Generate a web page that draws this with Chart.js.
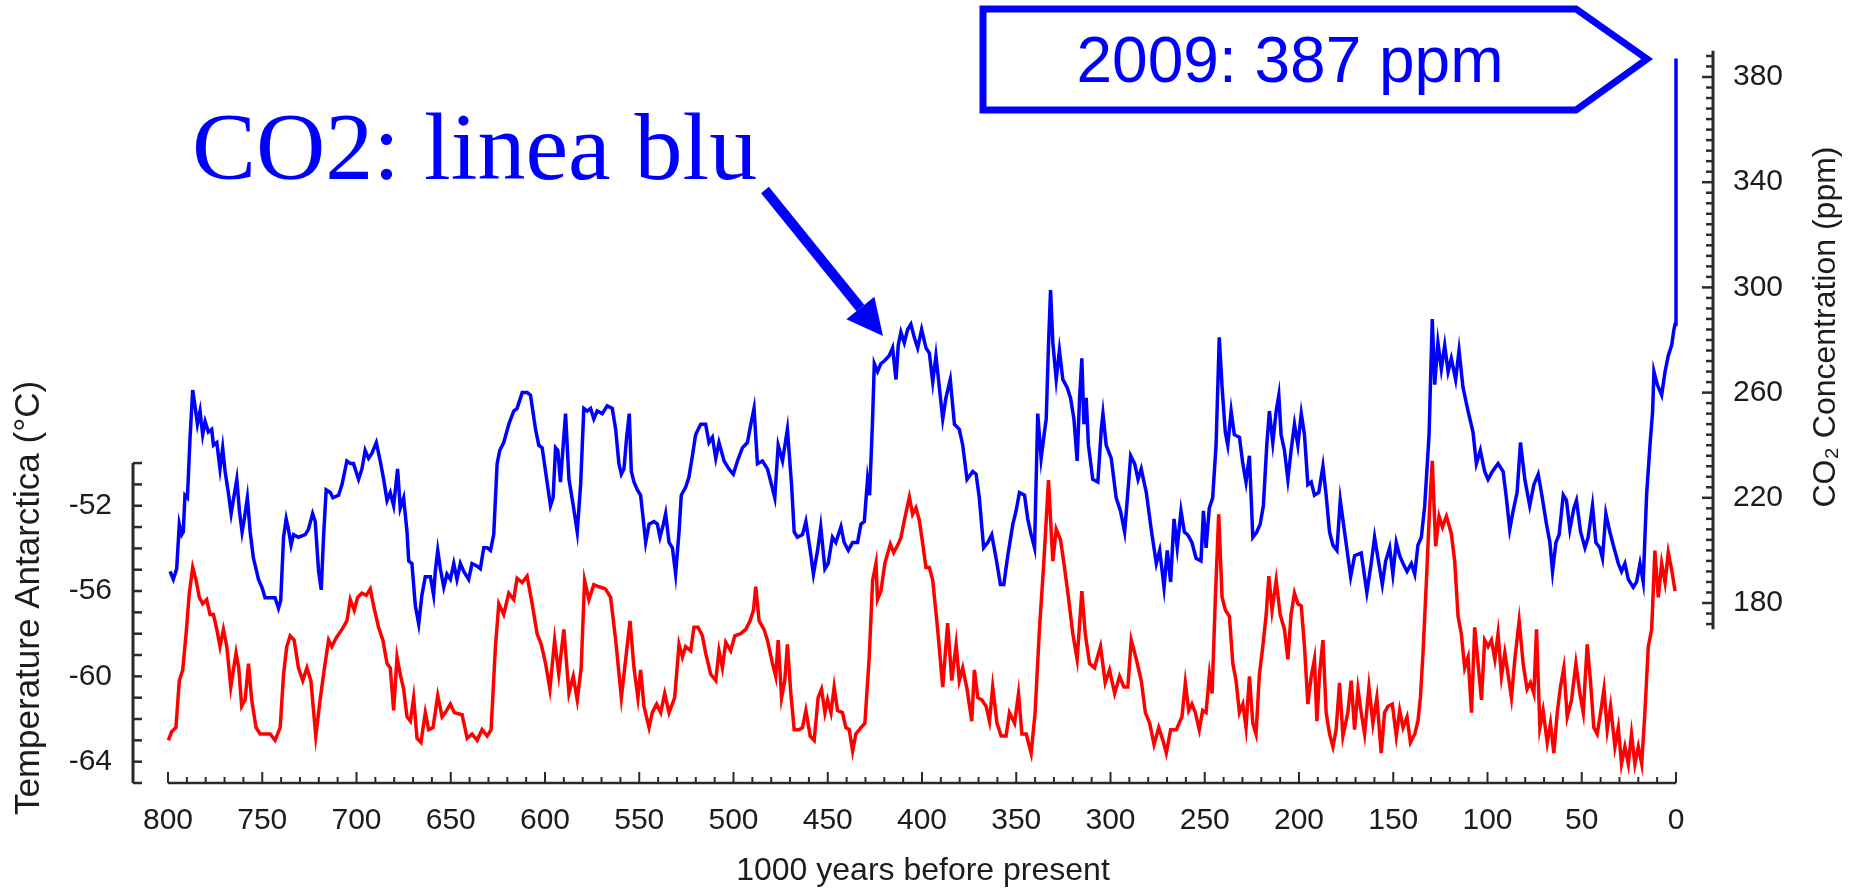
<!DOCTYPE html>
<html lang="it">

<head>
  <meta charset="UTF-8">
  <title>CO2 e temperatura Antartide</title>
  <script src="https://cdn.jsdelivr.net/npm/chart.js@4.4.1/dist/chart.umd.min.js"></script>
  <style>
    html, body { margin: 0; padding: 0; background: #fff; }
    #wrap { width: 1851px; height: 890px; }
  </style>
</head>

<body>
  <div id="wrap"><canvas id="iceChart" width="1851" height="890"></canvas></div>

  <script>
    // ages in 1000 years before present
    const co2Age = [798.9, 797.2, 795.4, 794.0, 792.7, 791.9, 791.0, 789.7, 788.3, 786.9, 785.7, 784.4, 783.0, 781.6, 780.3, 778.6, 776.8, 775.9, 774.1, 772.4,
      771.0, 769.7, 768.0, 766.5, 764.9, 763.5, 762.1, 760.7, 759.5, 757.9, 756.4, 754.7, 753.3, 752.0, 750.2, 748.5, 745.8, 743.2, 741.4, 740.2,
      738.7, 737.3, 736.1, 734.7, 733.4, 730.8, 727.2, 725.5, 723.3, 721.9, 720.1, 718.7, 717.5, 716.1, 713.9, 712.5, 709.5, 707.7, 705.1, 703.3,
      701.6, 698.9, 697.1, 695.4, 693.6, 691.8, 689.5, 687.4, 685.6, 683.8, 682.1, 680.3, 678.2, 676.8, 675.0, 673.2, 672.3, 670.6, 668.8, 667.0,
      665.3, 663.5, 660.8, 659.1, 658.2, 656.9, 655.5, 653.7, 652.0, 650.2, 648.4, 646.7, 644.9, 643.1, 640.5, 638.7, 636.0, 634.3, 632.5, 630.7,
      628.9, 627.2, 625.4, 624.0, 621.9, 619.2, 616.6, 614.8, 612.1, 609.5, 607.7, 605.0, 603.3, 601.5, 598.9, 597.1, 595.7, 594.4, 593.2, 591.8,
      589.1, 587.3, 585.0, 582.9, 581.1, 579.4, 577.6, 575.8, 574.1, 572.3, 569.6, 567.0, 564.3, 562.5, 560.8, 559.5, 558.1, 556.7, 555.3, 554.2,
      552.8, 551.0, 549.3, 547.9, 546.6, 544.8, 542.2, 540.4, 539.0, 537.2, 536.0, 534.2, 532.4, 530.7, 528.9, 527.7, 525.4, 523.6, 521.8, 520.1,
      517.4, 514.8, 513.0, 511.2, 509.4, 507.7, 505.0, 502.4, 500.1, 497.9, 495.3, 492.6, 490.8, 489.1, 487.3, 484.6, 482.0, 480.2, 478.1, 476.3,
      474.0, 471.4, 469.2, 467.8, 466.1, 463.4, 461.6, 459.3, 457.6, 455.4, 453.7, 451.5, 449.8, 447.5, 445.7, 443.0, 441.3, 439.1, 436.8, 434.2,
      432.4, 430.6, 428.9, 427.8, 426.2, 425.3, 423.6, 421.8, 420.0, 417.4, 415.6, 413.8, 412.6, 411.2, 409.4, 407.6, 405.9, 404.1, 402.3, 400.2,
      397.9, 396.1, 394.3, 392.6, 390.8, 389.0, 387.3, 385.0, 382.8, 380.2, 378.4, 376.1, 373.1, 371.3, 369.6, 367.3, 365.1, 363.0, 360.7, 358.4,
      356.6, 354.5, 351.8, 350.1, 348.3, 345.6, 343.9, 342.1, 340.3, 338.6, 336.8, 335.4, 334.1, 332.9, 331.8, 330.6, 328.8, 327.1, 325.3, 323.0,
      321.2, 319.4, 317.7, 316.4, 315.2, 314.1, 312.9, 311.7, 309.4, 306.7, 304.9, 304.0, 302.3, 299.6, 297.0, 294.7, 292.5, 290.8, 289.3, 287.2,
      285.4, 283.7, 281.0, 278.4, 275.7, 273.9, 271.6, 269.9, 268.1, 266.3, 264.6, 262.6, 260.8, 259.1, 256.8, 254.6, 252.0, 250.7, 249.3, 247.6,
      245.8, 244.0, 242.3, 240.8, 239.1, 237.8, 236.0, 234.3, 231.6, 229.8, 228.1, 226.3, 224.5, 222.4, 220.6, 218.9, 217.1, 215.7, 213.9, 212.1,
      210.7, 209.5, 207.7, 205.9, 204.2, 202.4, 200.6, 198.8, 197.1, 195.3, 193.5, 191.8, 189.5, 187.3, 185.6, 183.8, 182.0, 179.9, 178.1, 176.4,
      174.1, 172.6, 170.5, 167.0, 164.0, 161.7, 159.9, 158.1, 155.8, 154.0, 151.9, 150.2, 148.4, 146.6, 144.8, 142.7, 140.4, 138.6, 136.9, 135.1,
      133.3, 131.0, 129.3, 128.0, 126.3, 124.5, 122.7, 120.9, 119.2, 116.9, 115.1, 113.0, 110.3, 107.7, 105.9, 103.8, 101.5, 99.7, 97.4, 94.4,
      91.7, 90.0, 88.2, 86.4, 84.3, 82.5, 80.2, 77.6, 75.4, 73.1, 71.4, 68.7, 66.9, 65.5, 63.7, 62.0, 59.8, 58.1, 56.3, 54.2,
      52.8, 50.6, 48.3, 46.6, 44.3, 42.5, 40.4, 39.0, 37.2, 35.1, 32.9, 30.6, 28.9, 27.1, 25.3, 22.7, 20.9, 19.1, 17.4, 15.6,
      13.8, 12.4, 11.7, 9.9, 7.6, 5.8, 4.1, 2.3, 1.1, 0.5, 0.0];
    const co2Ppm = [192, 189, 193, 210, 206, 207, 221, 220, 243, 261, 255, 248, 253, 244, 249, 245, 246, 240, 241, 231,
      239, 230, 222, 214, 221, 227, 215, 207, 212, 220, 207, 197, 193, 189, 186, 182, 182, 182, 178, 181,
      205, 212, 208, 202, 206, 205, 206, 208, 214, 211, 192, 185, 205, 223, 222, 220, 221, 225, 234, 233,
      233, 227, 231, 238, 235, 237, 241, 234, 227, 219, 222, 217, 231, 216, 220, 207, 196, 195, 179, 172,
      183, 190, 190, 183, 192, 200, 193, 186, 191, 189, 195, 189, 195, 192, 189, 195, 194, 193, 201, 201,
      200, 206, 233, 238, 241, 248, 253, 254, 260, 260, 259, 246, 240, 239, 226, 217, 220, 239, 238, 226,
      252, 227, 217, 207, 225, 254, 253, 254, 250, 253, 252, 255, 254, 246, 233, 229, 231, 243, 252, 230,
      226, 223, 221, 212, 203, 210, 211, 210, 205, 210, 214, 203, 201, 191, 207, 221, 224, 228, 236, 244,
      248, 248, 241, 243, 235, 241, 234, 231, 229, 234, 239, 241, 248, 254, 233, 234, 231, 226, 220, 240,
      234, 246, 225, 207, 205, 206, 211, 200, 191, 200, 209, 193, 195, 205, 203, 209, 203, 200, 203, 203,
      210, 211, 227, 221, 250, 271, 268, 271, 272, 274, 277, 265, 278, 283, 279, 284, 286, 281, 277, 284,
      277, 275, 264, 274, 262, 250, 258, 265, 248, 246, 240, 227, 230, 229, 220, 201, 203, 206, 197, 187,
      187, 198, 210, 215, 222, 221, 212, 206, 201, 252, 235, 243, 250, 278, 299, 279, 265, 276, 265, 262,
      258, 250, 234, 258, 273, 248, 258, 240, 227, 226, 246, 252, 240, 235, 220, 215, 207, 222, 236, 233,
      227, 231, 222, 208, 195, 200, 186, 200, 188, 212, 201, 215, 207, 206, 203, 197, 196, 215, 201, 216,
      220, 240, 281, 262, 245, 240, 253, 244, 243, 233, 226, 236, 205, 207, 210, 217, 240, 253, 241, 253,
      259, 244, 238, 227, 238, 248, 240, 252, 244, 225, 226, 221, 222, 232, 221, 207, 202, 200, 219, 210,
      198, 190, 198, 199, 184, 195, 205, 197, 187, 196, 201, 191, 203, 198, 195, 192, 195, 191, 202, 205,
      217, 244, 288, 263, 279, 269, 278, 268, 273, 265, 276, 262, 253, 245, 233, 238, 230, 227, 230, 233,
      230, 220, 208, 215, 222, 241, 227, 217, 225, 229, 222, 210, 203, 192, 203, 206, 221, 219, 208, 216,
      219, 207, 201, 205, 217, 203, 201, 197, 214, 207, 201, 195, 192, 195, 189, 186, 188, 195, 188, 221,
      240, 253, 268, 263, 259, 268, 274, 278, 284, 286, 387];

    const tempAge = [799.8, 798.1, 795.8, 794.0, 792.2, 790.4, 788.7, 786.9, 785.1, 783.4, 781.6, 779.5, 777.7, 775.9, 774.1, 772.4, 770.6, 768.8, 766.7, 765.3,
      763.9, 762.5, 760.9, 759.1, 757.3, 755.6, 753.3, 751.1, 748.5, 745.8, 743.2, 740.5, 738.7, 737.0, 735.2, 733.1, 730.8, 728.5, 726.3, 724.2,
      721.6, 719.3, 717.0, 714.8, 713.1, 710.8, 707.7, 705.1, 703.3, 701.2, 699.4, 697.1, 694.8, 692.7, 690.9, 688.3, 686.0, 683.8, 682.1, 680.3,
      678.5, 676.8, 675.0, 673.2, 671.4, 669.7, 667.9, 665.8, 663.5, 661.7, 659.4, 656.9, 654.6, 652.9, 650.2, 648.1, 644.0, 641.3, 638.7, 636.0,
      633.4, 630.7, 628.6, 626.3, 624.5, 621.9, 619.2, 616.6, 614.8, 612.1, 609.5, 606.8, 604.2, 602.0, 599.7, 597.4, 594.9, 592.7, 590.0, 587.3,
      585.0, 582.9, 580.8, 579.0, 576.7, 574.1, 571.4, 567.9, 565.2, 562.5, 559.5, 557.2, 554.9, 552.8, 550.7, 549.3, 547.5, 544.8, 543.1, 540.8,
      538.6, 536.5, 534.2, 531.2, 528.9, 527.1, 525.4, 522.7, 521.0, 518.8, 516.5, 514.8, 512.1, 509.4, 507.7, 505.9, 504.1, 501.5, 499.3, 496.2,
      493.5, 491.2, 489.4, 488.2, 486.4, 483.8, 482.0, 479.3, 477.6, 476.3, 474.5, 472.8, 471.4, 469.6, 467.8, 465.2, 463.4, 461.6, 459.3, 457.2,
      455.1, 453.3, 451.5, 450.1, 448.3, 446.6, 444.8, 442.2, 440.4, 438.6, 436.8, 435.1, 432.4, 430.3, 428.0, 426.2, 424.4, 423.6, 421.8, 419.7,
      416.8, 415.0, 412.6, 411.2, 409.4, 406.7, 405.0, 403.2, 401.4, 399.6, 397.9, 396.1, 394.3, 391.7, 389.0, 386.4, 384.2, 381.9, 380.2, 378.4,
      376.1, 373.6, 372.2, 370.4, 368.3, 366.0, 364.2, 362.5, 360.2, 358.0, 355.4, 353.6, 350.9, 348.8, 347.0, 344.7, 342.1, 340.0, 337.7, 335.4,
      332.9, 330.6, 328.8, 326.5, 324.4, 322.3, 320.0, 317.7, 315.2, 313.4, 311.1, 308.5, 305.3, 302.8, 300.5, 297.8, 295.2, 292.9, 290.8, 289.0,
      286.3, 283.7, 281.5, 279.2, 276.9, 274.4, 272.2, 270.4, 268.1, 265.1, 262.1, 260.3, 258.5, 256.8, 255.0, 252.9, 251.1, 249.3, 247.5, 246.1,
      244.4, 242.6, 240.8, 239.0, 236.9, 235.1, 233.4, 231.6, 229.8, 228.1, 226.3, 224.5, 222.8, 221.0, 219.2, 217.4, 216.0, 214.3, 212.1, 210.0,
      207.7, 205.9, 204.2, 202.4, 200.6, 198.8, 197.1, 195.3, 193.5, 191.8, 190.5, 189.1, 187.3, 185.6, 183.8, 182.0, 180.3, 178.5, 176.7, 174.1,
      172.3, 170.5, 168.7, 167.0, 165.2, 162.9, 160.8, 158.7, 156.4, 154.6, 152.8, 150.5, 148.4, 146.6, 144.8, 142.7, 140.9, 138.6, 136.9, 135.6,
      134.2, 132.4, 130.7, 129.3, 127.5, 125.7, 123.9, 121.8, 119.2, 117.4, 115.6, 113.9, 112.1, 110.3, 108.5, 106.8, 105.0, 103.2, 101.5, 99.7,
      97.9, 96.1, 94.4, 92.6, 90.8, 89.1, 87.3, 85.5, 83.2, 81.1, 79.0, 77.2, 75.4, 74.0, 72.2, 70.5, 68.3, 66.6, 64.8, 63.0,
      61.3, 59.5, 57.7, 55.4, 53.1, 51.0, 49.2, 47.1, 45.3, 43.6, 41.8, 40.0, 38.2, 36.5, 34.7, 32.4, 30.6, 28.9, 27.1, 25.3,
      23.6, 21.8, 20.0, 18.2, 16.5, 14.7, 12.9, 11.2, 9.4, 7.6, 5.8, 4.1, 2.3, 0.5];
    const tempC = [-63.0, -62.6, -62.4, -60.2, -59.7, -58.0, -56.1, -54.9, -55.5, -56.3, -56.6, -56.4, -57.1, -57.1, -57.8, -58.6, -57.8, -58.6, -60.5, -59.7,
      -58.9, -59.6, -61.4, -61.1, -59.4, -61.1, -62.4, -62.7, -62.7, -62.7, -63.0, -62.4, -59.9, -58.6, -58.1, -58.3, -59.6, -60.2, -59.6, -60.2,
      -62.8, -61.1, -59.6, -58.3, -58.6, -58.2, -57.8, -57.4, -56.4, -56.9, -56.3, -56.1, -56.2, -55.9, -56.7, -57.7, -58.3, -59.4, -59.6, -61.6,
      -59.1, -59.9, -60.6, -61.9, -62.1, -61.0, -62.9, -63.1, -61.7, -62.5, -62.4, -60.9, -61.9, -61.7, -61.3, -61.7, -61.8, -62.9, -62.7, -63.0,
      -62.5, -62.8, -62.5, -58.6, -56.6, -57.1, -56.1, -56.4, -55.4, -55.6, -55.3, -56.6, -58.0, -58.5, -59.4, -60.6, -58.3, -59.9, -57.8, -60.8,
      -60.0, -61.1, -59.6, -55.5, -56.4, -55.7, -55.8, -55.9, -56.3, -58.3, -61.0, -59.2, -57.4, -59.6, -61.0, -59.7, -61.4, -62.4, -61.7, -61.3,
      -61.7, -60.8, -61.7, -61.0, -58.5, -59.1, -58.6, -58.8, -57.7, -57.7, -58.1, -58.9, -59.9, -60.2, -58.8, -59.6, -58.4, -58.8, -58.1, -58.0,
      -57.8, -57.4, -56.9, -55.8, -57.4, -57.8, -58.3, -59.4, -60.0, -58.3, -61.0, -60.2, -58.5, -60.8, -62.5, -62.5, -62.4, -61.6, -62.8, -63.0,
      -61.0, -60.6, -61.7, -61.1, -61.7, -60.5, -61.6, -61.7, -62.4, -62.5, -63.5, -62.7, -62.4, -62.2, -59.1, -55.5, -54.7, -56.4, -56.0, -54.7,
      -53.8, -54.2, -53.8, -53.5, -52.7, -51.6, -52.4, -52.1, -52.7, -53.8, -54.9, -54.9, -55.5, -57.8, -60.5, -57.5, -60.2, -58.5, -60.2, -59.6,
      -60.6, -62.1, -59.7, -61.0, -61.1, -61.4, -62.1, -60.5, -62.2, -62.8, -62.8, -61.7, -62.2, -60.8, -62.7, -62.7, -63.6, -61.7, -57.8, -54.7,
      -50.8, -54.6, -53.1, -53.6, -54.9, -56.3, -58.0, -59.2, -56.0, -58.0, -59.4, -59.6, -58.6, -60.3, -59.7, -60.8, -60.0, -60.5, -60.5, -58.3,
      -59.2, -60.2, -61.7, -62.2, -63.2, -62.4, -63.0, -63.6, -62.5, -62.5, -61.9, -60.3, -61.6, -61.3, -61.7, -62.5, -61.6, -61.7, -59.9, -60.8,
      -56.4, -52.4, -56.3, -56.9, -57.2, -59.4, -60.2, -61.7, -61.3, -62.4, -60.0, -62.2, -62.7, -59.9, -58.6, -57.1, -55.3, -56.9, -55.5, -57.1,
      -57.8, -59.2, -57.1, -56.1, -56.6, -56.7, -58.6, -61.3, -60.0, -59.2, -62.1, -59.9, -58.3, -61.7, -62.7, -63.3, -62.5, -60.3, -62.8, -61.7,
      -60.2, -62.5, -60.6, -61.7, -62.7, -60.5, -62.2, -61.0, -63.6, -61.7, -61.4, -61.3, -62.8, -61.6, -62.4, -61.9, -63.1, -62.7, -62.1, -61.0,
      -58.9, -55.5, -52.1, -49.9, -53.9, -52.5, -53.0, -52.5, -53.3, -54.6, -57.2, -58.0, -59.6, -59.1, -61.7, -57.7, -59.4, -61.1, -58.3, -58.6,
      -58.3, -59.2, -58.0, -60.0, -58.9, -59.9, -61.0, -59.2, -57.4, -59.4, -60.6, -60.3, -60.8, -57.8, -62.4, -61.6, -63.1, -62.2, -63.6, -61.7,
      -60.5, -59.6, -61.9, -61.1, -59.4, -60.8, -61.7, -58.5, -60.3, -62.4, -62.7, -61.7, -60.6, -62.5, -61.4, -63.3, -62.4, -64.1, -63.3, -64.1,
      -62.7, -64.1, -63.3, -64.1, -61.7, -58.6, -57.8, -54.1, -56.3, -54.7, -55.6, -54.2, -55.0, -56.0];

    const ageTicks = [800, 750, 700, 650, 600, 550, 500, 450, 400, 350, 300, 250, 200, 150, 100, 50, 0];
    const tempTicks = [-64, -60, -56, -52];
    const co2Ticks = [180, 220, 260, 300, 340, 380];

    const SANS = '"Liberation Sans", Arial, sans-serif';
    const BLUE = '#0000ff';
    const INK = '#1c1c1c';

    function seg(ctx, x1, y1, x2, y2, w) {
      ctx.lineWidth = w;
      ctx.beginPath();
      ctx.moveTo(x1, y1);
      ctx.lineTo(x2, y2);
      ctx.stroke();
    }

    // axis lines with inward ticks, y titles and the blue notes
    const decor = {
      id: 'decor',
      afterDraw(chart) {
        const { ctx, chartArea: a } = chart;
        const { x, yT, yC } = chart.scales;
        ctx.save();
        ctx.strokeStyle = '#2a2a2a';

        // time axis
        seg(ctx, x.getPixelForValue(800), a.bottom, x.getPixelForValue(0), a.bottom, 2.5);
        for (let v = 0; v <= 800; v += 10) {
          const px = x.getPixelForValue(v);
          seg(ctx, px, a.bottom, px, a.bottom - (v % 50 === 0 ? 11 : 6), 2);
        }

        // temperature axis
        seg(ctx, a.left, yT.getPixelForValue(-50), a.left, yT.getPixelForValue(-65), 3);
        for (let v = -65; v <= -50; v++) {
          const py = yT.getPixelForValue(v);
          seg(ctx, a.left, py, a.left + 9, py, 2.5);
        }

        // co2 axis
        seg(ctx, a.right, yC.getPixelForValue(390), a.right, yC.getPixelForValue(170), 3);
        for (let v = 172; v <= 388; v += 4) {
          const py = yC.getPixelForValue(v);
          seg(ctx, a.right, py, a.right - (v % 40 === 20 ? 11 : 7), py, 2.5);
        }

        // rotated axis titles
        ctx.fillStyle = INK;
        ctx.font = '35px ' + SANS;
        ctx.textAlign = 'center';
        ctx.textBaseline = 'alphabetic';
        ctx.save();
        ctx.translate(39, 598);
        ctx.rotate(-Math.PI / 2);
        ctx.fillText('Temperature Antarctica (°C)', 0, 0);
        ctx.restore();

        ctx.font = '32px ' + SANS;
        ctx.save();
        ctx.translate(1835, 327);
        ctx.rotate(-Math.PI / 2);
        ctx.fillText('CO\u2082 Concentration (ppm)', 0, 0);
        ctx.restore();

        // "CO2: linea blu" with arrow
        ctx.fillStyle = BLUE;
        ctx.strokeStyle = BLUE;
        ctx.font = '96px "Liberation Serif", "Times New Roman", serif';
        ctx.textAlign = 'left';
        ctx.fillText('CO2: linea blu', 192, 179);

        const sx = 765, sy = 190, tx = 883, ty = 336;
        const len = Math.hypot(tx - sx, ty - sy);
        const ux = (tx - sx) / len, uy = (ty - sy) / len;
        const bx = tx - ux * 36, by = ty - uy * 36;
        ctx.lineCap = 'butt';
        seg(ctx, sx, sy, bx, by, 10);
        ctx.beginPath();
        ctx.moveTo(tx, ty);
        ctx.lineTo(bx - uy * 18, by + ux * 18);
        ctx.lineTo(bx + uy * 18, by - ux * 18);
        ctx.closePath();
        ctx.fill();

        // 2009 box
        ctx.beginPath();
        ctx.moveTo(983, 9);
        ctx.lineTo(1576, 9);
        ctx.lineTo(1647, 59);
        ctx.lineTo(1576, 110);
        ctx.lineTo(983, 110);
        ctx.closePath();
        ctx.fillStyle = '#fff';
        ctx.fill();
        ctx.lineWidth = 7;
        ctx.lineJoin = 'miter';
        ctx.stroke();
        ctx.fillStyle = BLUE;
        ctx.font = '64px ' + SANS;
        ctx.textAlign = 'center';
        ctx.fillText('2009: 387 ppm', 1290, 82);

        ctx.restore();
      }
    };

    const tickFont = { family: SANS, size: 30 };

    new Chart(document.getElementById('iceChart'), {
      type: 'line',
      data: {
        datasets: [
          {
            label: 'CO2',
            data: co2Age.map((a, i) => ({ x: a, y: co2Ppm[i] })),
            yAxisID: 'yC',
            borderColor: BLUE,
            borderWidth: 3.5,
            pointRadius: 0,
            tension: 0
          },
          {
            label: 'Temperatura',
            data: tempAge.map((a, i) => ({ x: a, y: tempC[i] })),
            yAxisID: 'yT',
            borderColor: '#ff0000',
            borderWidth: 3.5,
            pointRadius: 0,
            tension: 0
          }
        ]
      },
      options: {
        responsive: false,
        animation: false,
        layout: { padding: { top: 51, left: 0, right: 0, bottom: 0 } },
        plugins: {
          legend: { display: false },
          tooltip: { enabled: false }
        },
        scales: {
          x: {
            type: 'linear',
            reverse: true,
            min: -19.63,
            max: 818.57,
            afterBuildTicks: s => { s.ticks = ageTicks.map(v => ({ value: v })); },
            afterFit: s => { s.height = 107; },
            grid: { display: false, drawTicks: false },
            border: { display: false },
            ticks: { padding: 20, font: tickFont, color: INK, maxRotation: 0, autoSkip: false },
            title: {
              display: true,
              text: '1000 years before present',
              font: { family: SANS, size: 32 },
              color: INK,
              padding: 0
            }
          },
          yT: {
            position: 'left',
            min: -65,
            max: -30.68,
            afterBuildTicks: s => { s.ticks = tempTicks.map(v => ({ value: v })); },
            afterFit: s => { s.width = 133; },
            grid: { display: false, drawTicks: false },
            border: { display: false },
            ticks: { padding: 21, font: tickFont, color: INK, autoSkip: false }
          },
          yC: {
            position: 'right',
            min: 111.56,
            max: 389.89,
            afterBuildTicks: s => { s.ticks = co2Ticks.map(v => ({ value: v })); },
            afterFit: s => { s.width = 138; },
            grid: { display: false, drawTicks: false },
            border: { display: false },
            ticks: { padding: 20, font: tickFont, color: INK, autoSkip: false }
          }
        }
      },
      plugins: [decor]
    });
  </script>
</body>

</html>
